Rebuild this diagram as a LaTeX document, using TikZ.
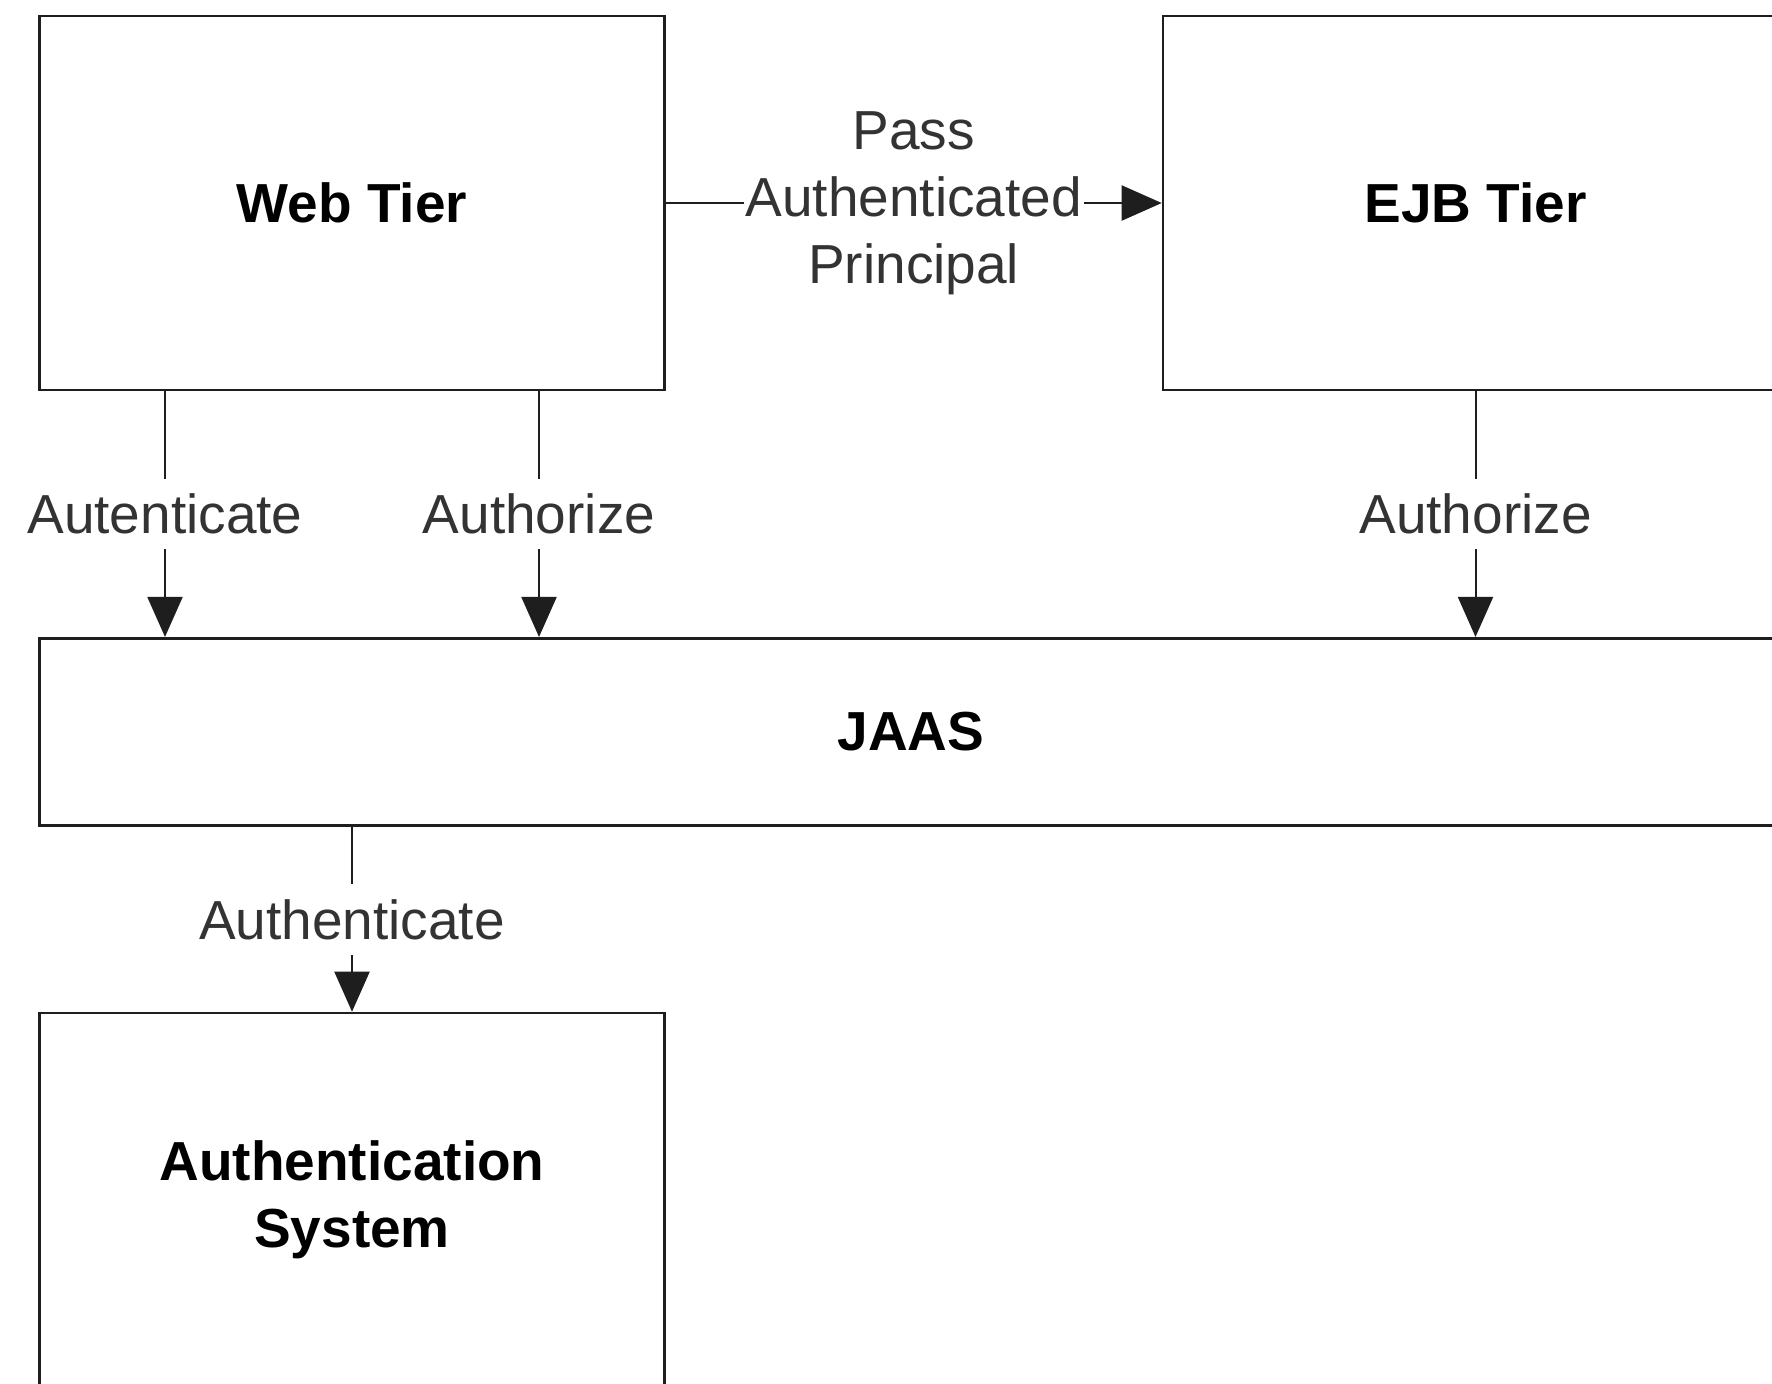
\documentclass[tikz,border=0pt]{standalone}
\usepackage{fontspec}
\setmainfont{Liberation Sans}
\usetikzlibrary{arrows.meta}
\definecolor{linec}{HTML}{1E1E1E}
\definecolor{lblc}{HTML}{333333}
\begin{document}
\begin{tikzpicture}[x=0.5pt,y=-0.5pt,
  box/.style={draw=linec,line width=1.3pt,fill=white,inner sep=0pt,
    font=\fontsize{27.5}{33.5}\selectfont\bfseries,text=black,align=center},
  conn/.style={draw=linec,line width=1pt,-{Triangle[length=20pt,width=17.5pt]}},
  lbl/.style={fill=white,text=lblc,inner xsep=1pt,inner ysep=7.5pt,
    font=\fontsize{27.5}{33.5}\selectfont,align=center}]
\useasboundingbox (0,0) rectangle (1772,1383);
\clip (0,0) rectangle (1772,1383);
\fill[white] (0,0) rectangle (1772,1383);
\node[box,minimum width=312.5pt,minimum height=187pt] (web) at (352,203) {Web Tier};
\node[box,minimum width=312.5pt,minimum height=187pt] (ejb) at (1475.5,203) {EJB Tier};
\node[box,minimum width=871.5pt,minimum height=93.75pt] (jaas) at (911,732) {JAAS};
\node[box,minimum width=312.5pt,minimum height=187pt] (auth) at (352,1200) {Authentication\\System};
\coordinate (c1) at (165,0);
\coordinate (c2) at (539,0);
\draw[conn] (web) -- (ejb) node[lbl,midway,inner ysep=0pt] {Pass\\Authenticated\\Principal};
\draw[conn] (web.south -| c1) -- (jaas.north -| c1) node[lbl,midway] {Autenticate};
\draw[conn] (web.south -| c2) -- (jaas.north -| c2) node[lbl,midway] {Authorize};
\draw[conn] (ejb.south) -- (ejb.south |- jaas.north) node[lbl,midway] {Authorize};
\draw[conn] (auth.north |- jaas.south) -- (auth.north) node[lbl,midway] {Authenticate};
\end{tikzpicture}
\end{document}
